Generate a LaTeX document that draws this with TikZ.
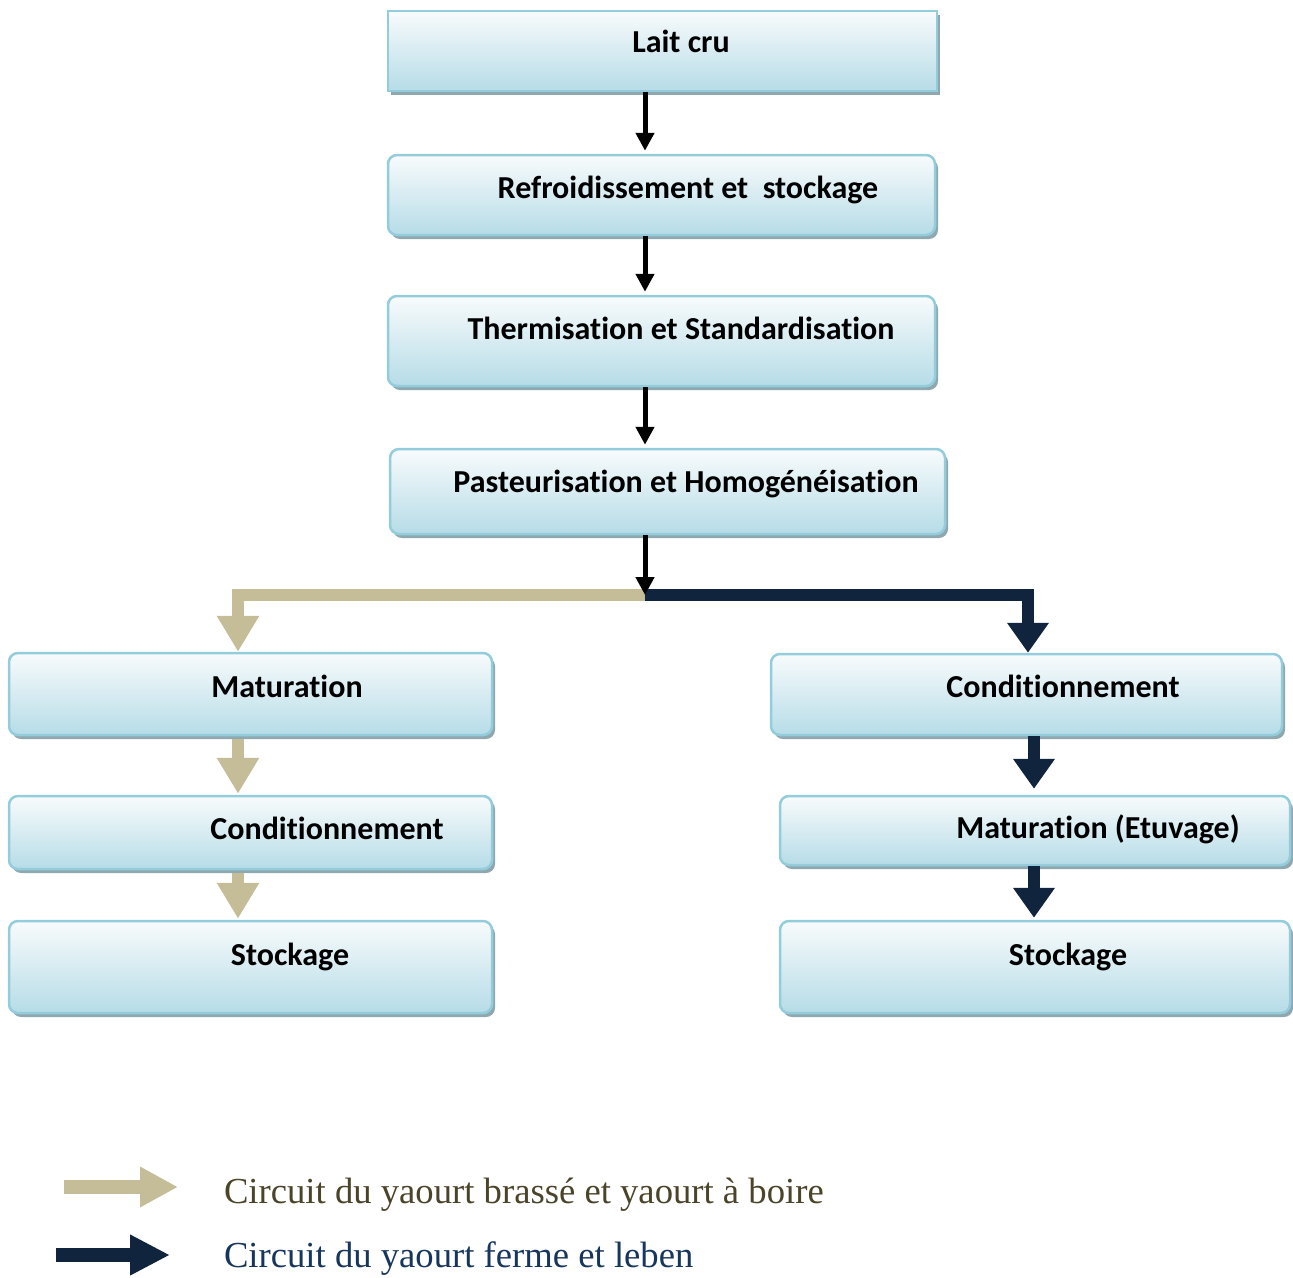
\documentclass[tikz,border=0pt]{standalone}
\usepackage{fontspec}
\setmainfont{Liberation Serif}
\newfontfamily\boxfont[Ligatures=NoCommon]{Carlito}
\usetikzlibrary{positioning}
\usetikzlibrary{arrows.meta}
\usetikzlibrary{shadows}
\definecolor{box-top}{HTML}{F8FBFC}
\definecolor{box-bottom}{HTML}{B6DCE7}
\definecolor{box-border}{HTML}{93CDDC}
\definecolor{box-shadow}{HTML}{8FA8AF}
\definecolor{tan}{HTML}{C4BD97}
\definecolor{navy}{HTML}{10243E}
\definecolor{tan-text}{HTML}{4A4429}
\definecolor{navy-text}{HTML}{17365D}
\newlength{\unitpx}
\setlength{\unitpx}{0.75pt}

\begin{document}
\begin{tikzpicture}[line width=0pt,
	stepbox/.style={draw=box-border, line width=2.5\unitpx, top color=box-top, bottom color=box-bottom,
		rounded corners=9\unitpx, inner sep=0pt,
		drop shadow={shadow xshift=3\unitpx, shadow yshift=-4\unitpx, fill=box-shadow, opacity=1}},
	steptext/.style={anchor=base, inner sep=0pt, font=\boxfont\bfseries\fontsize{24}{28}\selectfont},
	legendtext/.style={anchor=base west, inner sep=0pt, font=\fontsize{27.5}{32}\selectfont},
	blackflow/.style={-{Triangle[length=13.5pt,width=13.5pt]}, line width=5\unitpx, color=black},
	tanflow/.style={-{Triangle[length=27pt,width=30pt]}, line width=12\unitpx, color=tan},
	navyflow/.style={-{Triangle[length=22.5pt,width=30pt]}, line width=12\unitpx, color=navy}]
    \useasboundingbox (0,0) rectangle (1293\unitpx,-1278\unitpx);

    % central column
    \draw (662.5\unitpx,-51\unitpx) 
		node[stepbox, sharp corners, minimum width=549\unitpx, minimum height=80\unitpx] 
			(LaitCru) {};
    \draw (661.5\unitpx,-195\unitpx) 
		node[stepbox, minimum width=547\unitpx, minimum height=80\unitpx] 
			(Refroidissement) {};
    \draw (661.5\unitpx,-341\unitpx) 
		node[stepbox, minimum width=547\unitpx, minimum height=90\unitpx] 
			(Thermisation) {};
    \draw (667.5\unitpx,-491.5\unitpx) 
		node[stepbox, minimum width=555\unitpx, minimum height=85\unitpx] 
			(Pasteurisation) {};

    % left column
    \draw (250.5\unitpx,-694\unitpx) 
		node[stepbox, minimum width=483\unitpx, minimum height=82\unitpx] 
			(MaturationL) {};
    \draw (250.5\unitpx,-832.5\unitpx) 
		node[stepbox, minimum width=483\unitpx, minimum height=73\unitpx] 
			(ConditionnementL) {};
    \draw (250.5\unitpx,-967\unitpx) 
		node[stepbox, minimum width=483\unitpx, minimum height=92\unitpx] 
			(StockageL) {};

    % right column
    \draw (1026.5\unitpx,-694.5\unitpx) 
		node[stepbox, minimum width=511\unitpx, minimum height=81\unitpx] 
			(ConditionnementR) {};
    \draw (1035\unitpx,-830.5\unitpx) 
		node[stepbox, minimum width=510\unitpx, minimum height=69\unitpx] 
			(MaturationEtuvage) {};
    \draw (1035\unitpx,-967\unitpx) 
		node[stepbox, minimum width=510\unitpx, minimum height=92\unitpx] 
			(StockageR) {};

    % texts
    \draw (681\unitpx,-52\unitpx) node[steptext] (LaitCruText) {Lait cru};
    \draw (688\unitpx,-198\unitpx) node[steptext] (RefroidissementText) {Refroidissement et~~stockage};
    \draw (681\unitpx,-339\unitpx) node[steptext] (ThermisationText) {Thermisation et Standardisation};
    \draw (686\unitpx,-492\unitpx) node[steptext] (PasteurisationText) {Pasteurisation et Homogénéisation};
    \draw (287\unitpx,-697\unitpx) node[steptext] (MaturationLText) {Maturation};
    \draw (327\unitpx,-839\unitpx) node[steptext] (ConditionnementLText) {Conditionnement};
    \draw (290\unitpx,-965\unitpx) node[steptext] (StockageLText) {Stockage};
    \draw (1063\unitpx,-697\unitpx) node[steptext] (ConditionnementRText) {Conditionnement};
    \draw (1098\unitpx,-838\unitpx) node[steptext] (MaturationEtuvageText) {Maturation (Etuvage)};
    \draw (1068\unitpx,-965\unitpx) node[steptext] (StockageRText) {Stockage};

    \coordinate (Split) at (645\unitpx,-595\unitpx);

	\draw[tanflow] (Split) -| ([xshift=-12.5\unitpx]MaturationL.north);
	\draw[navyflow] (Split) -| ([xshift=1.5\unitpx]ConditionnementR.north);

	\draw[blackflow, shorten >=3\unitpx] ([xshift=-17.5\unitpx]LaitCru.south) -- ([xshift=-16.5\unitpx]Refroidissement.north);
	\draw[blackflow, shorten >=3\unitpx] ([xshift=-16.5\unitpx]Refroidissement.south) -- ([xshift=-16.5\unitpx]Thermisation.north);
	\draw[blackflow, shorten >=3\unitpx] ([xshift=-16.5\unitpx]Thermisation.south) -- ([xshift=-22.5\unitpx]Pasteurisation.north);
	\draw[blackflow] ([xshift=-22.5\unitpx]Pasteurisation.south) -- (Split);

	\draw[tanflow, shorten <=3\unitpx, shorten >=1\unitpx] ([xshift=-12.5\unitpx]MaturationL.south) -- ([xshift=-12.5\unitpx]ConditionnementL.north);
	\draw[tanflow, shorten <=3\unitpx, shorten >=1\unitpx] ([xshift=-12.5\unitpx]ConditionnementL.south) -- ([xshift=-12.5\unitpx]StockageL.north);
	\draw[navyflow, shorten >=6\unitpx] ([xshift=7.5\unitpx]ConditionnementR.south) -- ([xshift=-1\unitpx]MaturationEtuvage.north);
	\draw[navyflow, shorten >=2\unitpx] ([xshift=-1\unitpx]MaturationEtuvage.south) -- ([xshift=-1\unitpx]StockageR.north);

    % legend
	\draw[tanflow, line width=14\unitpx, -{Triangle[length=28.5pt,width=28.5pt]}] (64\unitpx,-1187\unitpx) -- (178\unitpx,-1187\unitpx);
	\draw[navyflow, line width=14\unitpx, -{Triangle[length=30pt,width=28.5pt]}] (56\unitpx,-1255\unitpx) -- (170\unitpx,-1255\unitpx);
    \draw (224\unitpx,-1203\unitpx) node[legendtext, text=tan-text] (LegendBrasse) {Circuit du yaourt brassé et yaourt à boire};
    \draw (224\unitpx,-1267\unitpx) node[legendtext, text=navy-text] (LegendFerme) {Circuit du yaourt ferme et leben};
\end{tikzpicture}
\end{document}
